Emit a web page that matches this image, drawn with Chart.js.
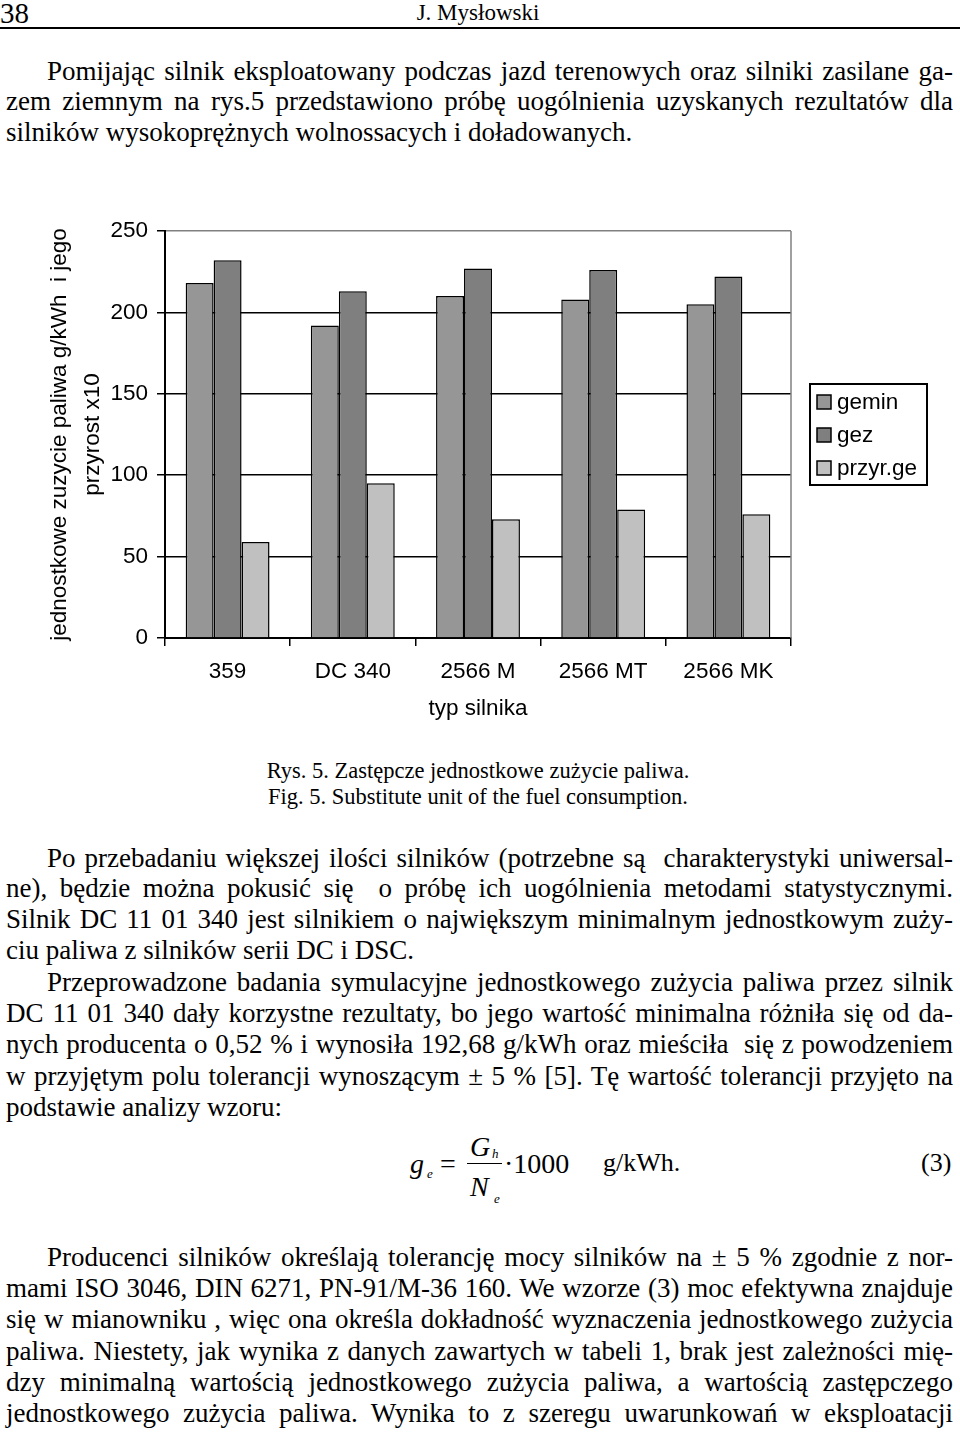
<!DOCTYPE html>
<html>
<head>
<meta charset="utf-8">
<script src="https://cdn.jsdelivr.net/npm/chart.js@4"></script>
<style>
body{margin:0;width:960px;height:1433px;background:#fff;position:relative;overflow:hidden;font-family:"Liberation Serif","Times New Roman",serif;color:#000}
.ln{position:absolute;left:6px;width:947px;font-size:27px;line-height:31px;white-space:nowrap;text-align:justify;text-align-last:justify;margin-top:1px}
.ln.in{text-indent:41px}
.ln.end{text-align-last:left}
.abs{position:absolute;white-space:nowrap;line-height:1}
#hdr{position:absolute;left:0;top:27px;width:960px;height:0;border-top:2px solid #000}
.cap{position:absolute;left:0;width:956px;text-align:center;font-size:22.5px;line-height:26px}
#box{position:absolute;left:0;top:200px;width:960px;height:530px}
i{font-style:italic}
</style>
</head>
<body>
<div class="abs" style="left:0;top:-1px;font-size:29px">38</div>
<div class="abs" style="left:0;width:956px;text-align:center;top:1px;font-size:23px">J. Mysłowski</div>
<div id="hdr"></div>

<div class="ln in" style="top:55px">Pomijając silnik eksploatowany podczas jazd terenowych oraz silniki zasilane ga-</div>
<div class="ln" style="top:85px">zem ziemnym na rys.5 przedstawiono próbę uogólnienia uzyskanych rezultatów dla</div>
<div class="ln end" style="top:116px">silników wysokoprężnych wolnossacych i doładowanych.</div>

<div id="box"><canvas id="chart"></canvas></div>

<div class="cap" style="top:758px">Rys. 5. Zastępcze jednostkowe zużycie paliwa.</div>
<div class="cap" style="top:784px">Fig. 5. Substitute unit of the fuel consumption.</div>

<div class="ln in" style="top:842px">Po przebadaniu większej ilości silników (potrzebne są&nbsp; charakterystyki uniwersal-</div>
<div class="ln" style="top:872px">ne), będzie można pokusić się&nbsp; o próbę ich uogólnienia metodami statystycznymi.</div>
<div class="ln" style="top:903px">Silnik DC 11 01 340 jest silnikiem o największym minimalnym jednostkowym zuży-</div>
<div class="ln end" style="top:934px">ciu paliwa z silników serii DC i DSC.</div>

<div class="ln in" style="top:966px">Przeprowadzone badania symulacyjne jednostkowego zużycia paliwa przez silnik</div>
<div class="ln" style="top:997px">DC 11 01 340 dały korzystne rezultaty, bo jego wartość minimalna różniła się od da-</div>
<div class="ln" style="top:1028px">nych producenta o 0,52 % i wynosiła 192,68 g/kWh oraz mieściła&nbsp; się z powodzeniem</div>
<div class="ln" style="top:1060px">w przyjętym polu tolerancji wynoszącym ± 5 % [5]. Tę wartość tolerancji przyjęto na</div>
<div class="ln end" style="top:1091px">podstawie analizy wzoru:</div>

<div class="abs" style="left:410px;top:1150px;font-size:28px"><i>g</i></div>
<div class="abs" style="left:427px;top:1167px;font-size:13px"><i>e</i></div>
<div class="abs" style="left:440px;top:1150px;font-size:28px">=</div>
<div class="abs" style="left:470px;top:1133px;font-size:28px"><i>G</i></div>
<div class="abs" style="left:492px;top:1147px;font-size:13px"><i>h</i></div>
<div style="position:absolute;left:467px;top:1163px;width:35px;border-top:1.5px solid #000"></div>
<div class="abs" style="left:470px;top:1173px;font-size:28px"><i>N</i></div>
<div class="abs" style="left:494px;top:1192px;font-size:13px"><i>e</i></div>
<div class="abs" style="left:504px;top:1150px;font-size:28px">·1000</div>
<div class="abs" style="left:603px;top:1150px;font-size:26px">g/kWh.</div>
<div class="abs" style="left:921px;top:1150px;font-size:26px">(3)</div>

<div class="ln in" style="top:1241px">Producenci silników określają tolerancję mocy silników na ± 5 % zgodnie z nor-</div>
<div class="ln" style="top:1272px">mami ISO 3046, DIN 6271, PN-91/M-36 160. We wzorze (3) moc efektywna znajduje</div>
<div class="ln" style="top:1303px">się w mianowniku , więc ona określa dokładność wyznaczenia jednostkowego zużycia</div>
<div class="ln" style="top:1335px">paliwa. Niestety, jak wynika z danych zawartych w tabeli 1, brak jest zależności mię-</div>
<div class="ln" style="top:1366px">dzy minimalną wartością jednostkowego zużycia paliwa, a wartością zastępczego</div>
<div class="ln" style="top:1397px">jednostkowego zużycia paliwa. Wynika to z szeregu uwarunkowań w eksploatacji</div>

<script>
// values (g/kWh, growth x10)
var categories = ['359', 'DC 340', '2566 M', '2566 MT', '2566 MK'];
var gemin = [218, 192, 210, 208, 205];
var gez = [232, 213, 227, 226, 222];
var przyrGe = [59, 95, 73, 79, 76];
var seriesNames = ['gemin', 'gez', 'przyr.ge'];
var seriesColors = ['#969696', '#7f7f7f', '#c0c0c0'];
var yMin = 0, yMax = 250, yStep = 50;

var sansFont = '"Liberation Sans", Arial, sans-serif';
Chart.defaults.color = '#000';
Chart.defaults.font.family = sansFont;
Chart.defaults.font.size = 22.5;

// framed legend + grey right edge of the plot
var boxLegend = {
    id: 'boxLegend',
    afterDraw: function (chart) {
        var ctx = chart.ctx, a = chart.chartArea;
        ctx.save();
        ctx.strokeStyle = '#808080';
        ctx.lineWidth = 1.5;
        ctx.beginPath();
        ctx.moveTo(a.right, a.top);
        ctx.lineTo(a.right, a.bottom);
        ctx.stroke();

        var w = 117, h = 101;
        var x = a.right + 19, y = (a.top + a.bottom) / 2 - h / 2;
        ctx.strokeStyle = '#000';
        ctx.lineWidth = 2;
        ctx.strokeRect(x, y, w, h);
        ctx.font = '22.5px ' + sansFont;
        ctx.textBaseline = 'middle';
        chart.data.datasets.forEach(function (ds, i) {
            var cy = y + 18 + i * 33;
            ctx.fillStyle = ds.backgroundColor;
            ctx.fillRect(x + 7, cy - 7, 14, 14);
            ctx.lineWidth = 1.5;
            ctx.strokeRect(x + 7, cy - 7, 14, 14);
            ctx.fillStyle = '#000';
            ctx.fillText(ds.label, x + 27, cy + 1);
        });
        ctx.restore();
    }
};

var ctx = document.getElementById('chart');
var chart = new Chart(ctx, {
    type: 'bar',
    data: {
        labels: categories,
        datasets: [
            { label: seriesNames[0], data: gemin, backgroundColor: seriesColors[0] },
            { label: seriesNames[1], data: gez, backgroundColor: seriesColors[1] },
            { label: seriesNames[2], data: przyrGe, backgroundColor: seriesColors[2] }
        ]
    },
    options: {
        responsive: true,
        maintainAspectRatio: false,
        animation: false,
        layout: { padding: { left: 40, right: 169, top: 31, bottom: 0 } },
        datasets: {
            bar: {
                borderColor: '#000',
                borderWidth: 1.5,
                categoryPercentage: 0.67,
                barPercentage: 1.0
            }
        },
        plugins: {
            legend: { display: false },
            tooltip: { enabled: false }
        },
        scales: {
            x: {
                afterFit: function (s) { s.height = 92; },
                grid: {
                    display: true,
                    drawOnChartArea: false,
                    offset: true,
                    tickLength: 8,
                    color: '#000',
                    lineWidth: 1.5
                },
                border: { display: true, color: '#000', width: 2 },
                ticks: { padding: 12 },
                title: {
                    display: true,
                    text: 'typ silnika',
                    padding: { top: 0, bottom: 8 }
                }
            },
            y: {
                min: yMin,
                max: yMax,
                afterFit: function (s) { s.width = 125; },
                grid: {
                    color: function (c) { return c.tick && c.tick.value === yMax ? '#808080' : '#000'; },
                    tickColor: '#000',
                    lineWidth: 1.5,
                    tickLength: 8
                },
                border: { display: true, color: '#000', width: 2 },
                ticks: { stepSize: yStep, padding: 9 },
                title: {
                    display: true,
                    text: ['jednostkowe zuzycie paliwa g/kWh  i jego', 'przyrost x10'],
                    font: { lineHeight: 1.47 },
                    padding: { top: 3, bottom: 0 }
                }
            }
        }
    },
    plugins: [boxLegend]
});
</script>
</body>
</html>
